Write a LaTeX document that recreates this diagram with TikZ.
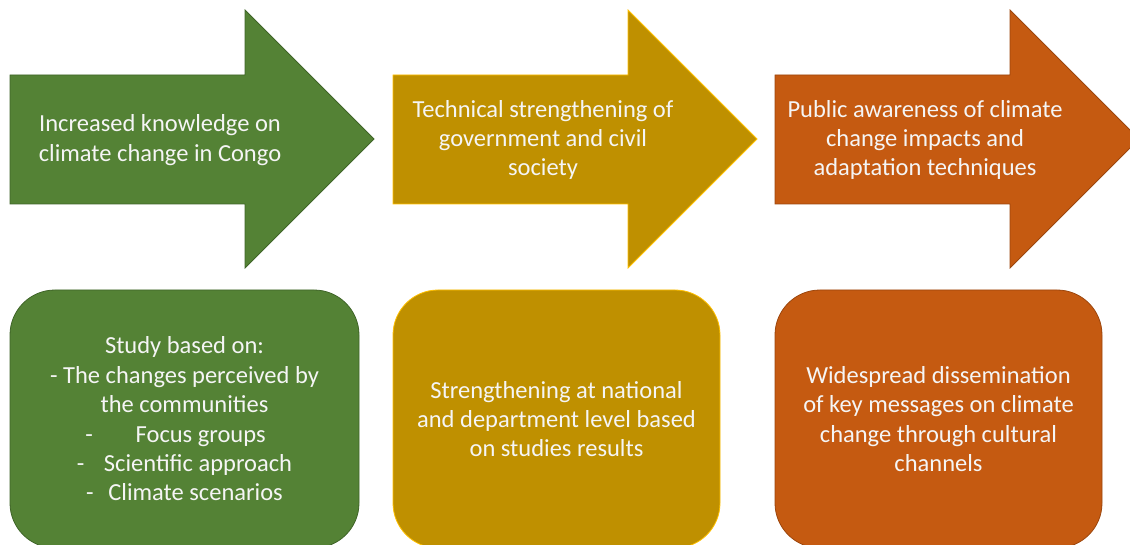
\documentclass[tikz,border=0pt]{standalone}
\usepackage{fontspec}
\setmainfont{Carlito}
\definecolor{leafgreen}{HTML}{548235}
\definecolor{leafdark}{HTML}{3F6428}
\definecolor{mustard}{HTML}{BF9000}
\definecolor{mustardline}{HTML}{FFC000}
\definecolor{rust}{HTML}{C55A11}
\definecolor{rustdark}{HTML}{9C460D}
\newcommand{\stagearrow}[3]{%
  \filldraw[fill=#2, draw=#3, line width=0.8pt]
    (#1,75) -- ++(235,0) -- ++(0,-65) -- ++(129,129) -- ++(-129,129)
    -- ++(0,-64) -- ++(-235,0) -- cycle;}

\begin{document}
\begin{tikzpicture}[x=1pt,y=-1pt,
  txt/.style={text=white!96!black, align=center, font=\fontsize{24.5}{29.4}\selectfont},
  box/.style={txt, rounded corners=45pt, minimum width=349pt, minimum height=258pt, line width=0.8pt}]
  \useasboundingbox (0,0) rectangle (1130,545);
  \clip (0,0) rectangle (1130,545);

  % top row
  \stagearrow{10}{leafgreen}{leafdark}
  \stagearrow{393}{mustard}{mustardline}
  \stagearrow{775}{rust}{rustdark}
  \node[txt] (k1) at (160,140) {Increased knowledge on\\climate change in Congo};
  \node[txt] (k2) at (543,140) {Technical strengthening of\\government and civil\\society};
  \node[txt] (k3) at (925,140) {Public awareness of climate\\change impacts and\\adaptation techniques};

  % bottom row
  \node[box, fill=leafgreen, draw=leafdark, minimum width=349pt] (b1) at (184.5,419)
    {Study based on:\\- The changes perceived by\\the communities\\
     -\hspace{1.75em}Focus groups\hspace{18pt}\mbox{}\\-\hspace{0.8em}Scientific approach\\-\hspace{0.6em}Climate scenarios};
  \node[box, fill=mustard, draw=mustardline, minimum width=327pt] (b2) at (556.5,419)
    {Strengthening at national\\and department level based\\on studies results};
  \node[box, fill=rust, draw=rustdark, minimum width=327pt] (b3) at (938.5,419)
    {Widespread dissemination\\of key messages on climate\\change through cultural\\channels};
\end{tikzpicture}
\end{document}
